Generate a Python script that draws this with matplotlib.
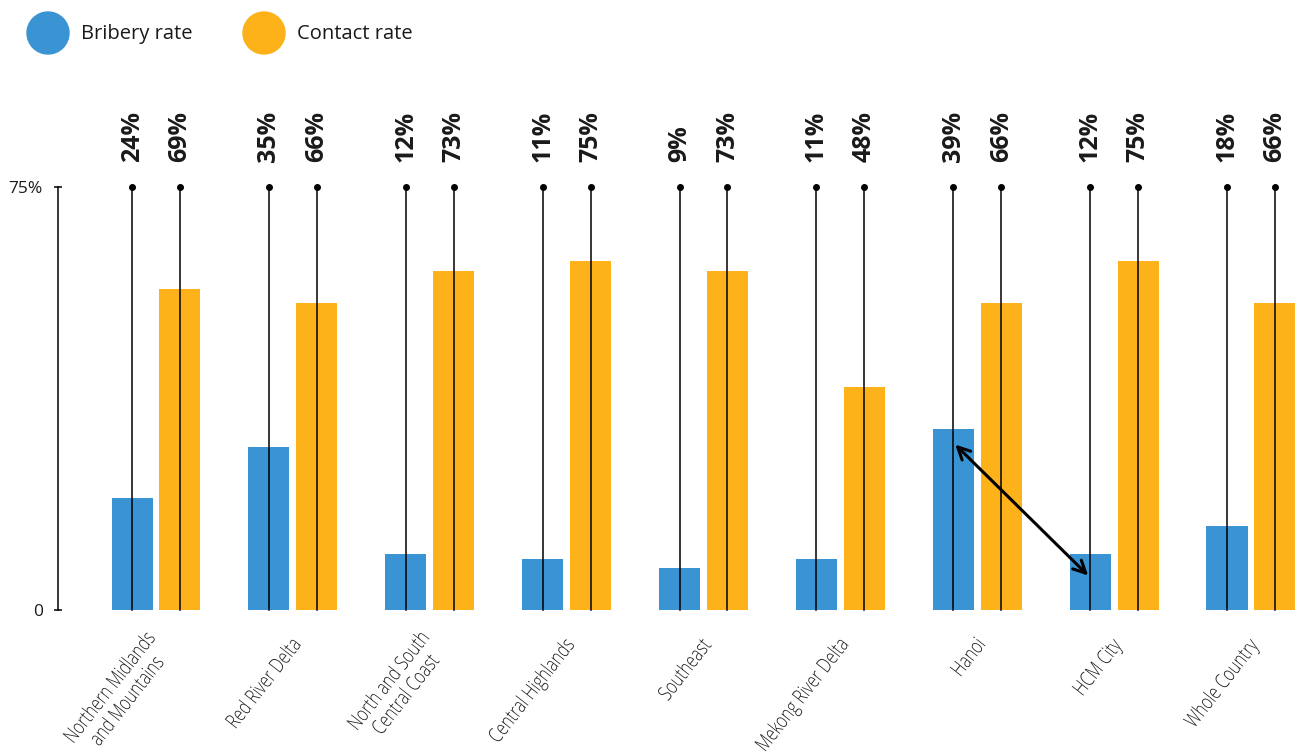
import numpy as np
import matplotlib
matplotlib.use('Agg')
import matplotlib.pyplot as plt
from matplotlib.patches import Circle, PathPatch
from matplotlib.textpath import TextPath
from matplotlib.font_manager import FontProperties
from matplotlib.transforms import Affine2D

regions = ['Northern Midlands\nand Mountains', 'Red River Delta', 'North and South\nCentral Coast',
           'Central Highlands', 'Southeast', 'Mekong River Delta', 'Hanoi', 'HCM City', 'Whole Country']
bribery = [24, 35, 12, 11, 9, 11, 39, 12, 18]
contact = [69, 66, 73, 75, 73, 48, 66, 75, 66]
top_value = 91          # height of the guide lines / top tick
tick_vals = [0, top_value]
tick_labels = ['0', '75%']

blue = '#3A93D3'
orange = '#FDB21A'

plt.rcParams['font.family'] = ['Open Sans', 'DejaVu Sans']

fig = plt.figure(figsize=(12.96, 7.55), dpi=100)
ax = fig.add_axes([58 / 1296, 145 / 755, 1238 / 1296, 423 / 755])

x = np.arange(len(regions))
off = 0.175
w = 0.30
ax.bar(x - off, bribery, width=w, color=blue, zorder=1)
ax.bar(x + off, contact, width=w, color=orange, zorder=1)

# guide lines with dots and value labels
for xs, vals in [(x - off, bribery), (x + off, contact)]:
    for xi, v in zip(xs, vals):
        ax.plot([xi, xi], [0, top_value], color='black', lw=1.1, zorder=2, clip_on=False)
        ax.plot(xi, top_value, 'o', color='black', ms=4, zorder=3, clip_on=False)
        ax.annotate('%d%%' % v, (xi, top_value), xytext=(0, 18), textcoords='offset points',
                    rotation=90, ha='center', va='bottom', fontsize=18, fontweight='bold',
                    color='#1a1a1a', annotation_clip=False)

# arrow comparing Hanoi and HCM City
ax.annotate('', xy=(x[7] - off, bribery[7] - 5), xytext=(x[6] - off, bribery[6] - 3),
            arrowprops=dict(arrowstyle='<->', color='black', lw=2.2, mutation_scale=22), zorder=4)

ax.set_xlim(-0.716, 8.329)
ax.set_ylim(0, top_value)
for s in ['top', 'right', 'bottom']:
    ax.spines[s].set_visible(False)
ax.spines['left'].set_linewidth(1.1)
ax.spines['left'].set_bounds(0, top_value)
ax.set_yticks(tick_vals)
ax.set_yticklabels(tick_labels, fontsize=12.5, color='#1a1a1a')
ax.tick_params(axis='y', direction='inout', length=6, width=1.1, pad=8)
ax.set_xticks([])

# condensed, rotated category labels built from text paths
fp = FontProperties(family='Open Sans', weight='light')
size_px = 15 * fig.dpi / 72
squeeze = 0.76
angle = 52
line_h = size_px * 1.05
for xi, name in zip(x, regions):
    ax_px, ay_px = ax.transData.transform((xi, 0))
    ax_px -= 4
    ay_px -= 26
    lines = name.split('\n')
    paths = [TextPath((0, 0), ln, size=size_px, prop=fp) for ln in lines]
    widths = [p.get_extents().x1 * squeeze for p in paths]
    block = max(widths)
    for j, (p, wd) in enumerate(zip(paths, widths)):
        dx = -block + (block - wd) / 2
        dy = -size_px * 0.75 - j * line_h + (len(lines) - 1) * line_h / 2
        tr = (Affine2D().scale(squeeze, 1).translate(dx, dy)
              .rotate_deg(angle).translate(ax_px, ay_px))
        fig.add_artist(PathPatch(p, transform=tr, facecolor='#222222', edgecolor='none'))

# legend
for cx, col, lab in [(48, blue, 'Bribery rate'), (264, orange, 'Contact rate')]:
    fig.patches.append(Circle((cx / 100, (755 - 33) / 100), 0.21, color=col,
                              transform=fig.dpi_scale_trans, figure=fig))
    fig.text((cx + 33) / 1296, 1 - 34 / 755, lab, fontsize=14.5, va='center', ha='left', color='#1a1a1a')

fig.savefig('out.png', dpi=100)
